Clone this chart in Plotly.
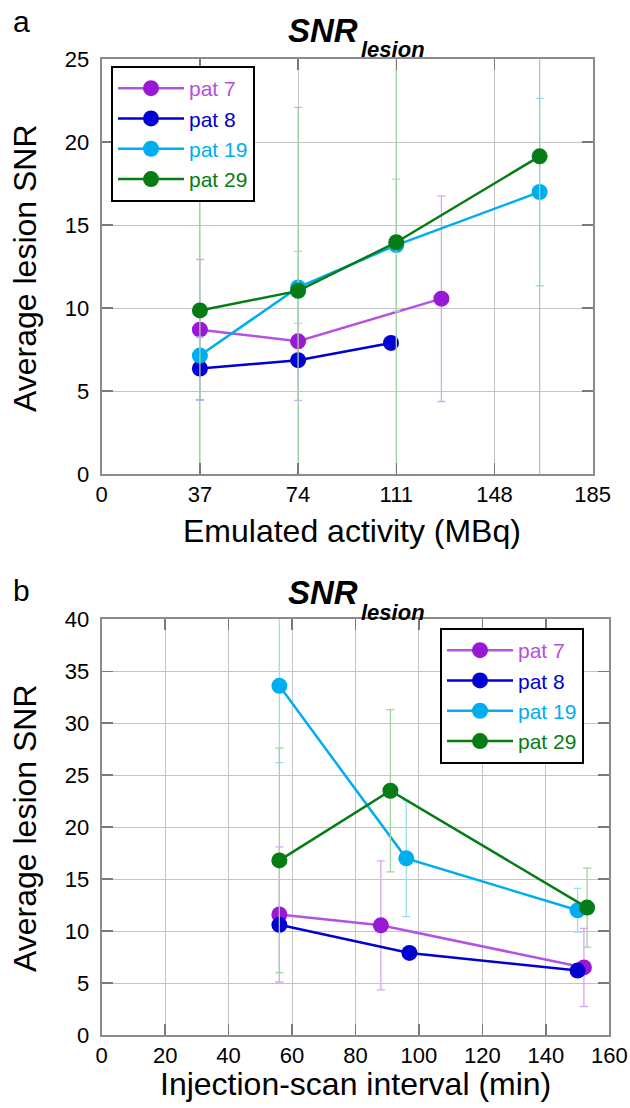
import plotly.graph_objects as go

# ---------------- data ----------------
patients = ["pat 7", "pat 8", "pat 19", "pat 29"]

# Panel a: emulated activity (MBq)
a_x_p7 = [37, 74, 128]
a_y_p7 = [8.70, 8.00, 10.57]
a_e_p7 = [4.23, 3.56, 6.20]

a_x_p8 = [37, 74, 109]
a_y_p8 = [6.36, 6.86, 7.90]
a_e_p8 = [1.90, 0, 0]

a_x_p19 = [37, 74, 111, 165]
a_y_p19 = [7.14, 11.25, 13.80, 17.00]
a_e_p19 = [0, 2.17, 3.98, 5.65]

a_x_p29 = [37, 74, 111, 165]
a_y_p29 = [9.86, 11.04, 13.97, 19.15]
a_e_p29 = [16.0, 11.06, 15.0, 21.0]

# Panel b: injection-scan interval (min)
b_x_p7 = [56, 88, 152]
b_y_p7 = [11.6, 10.55, 6.5]
b_e_p7 = [6.5, 6.2, 3.76]

b_x_p8 = [56, 97, 150]
b_y_p8 = [10.6, 7.9, 6.2]
b_e_p8 = [0, 0, 0]

b_x_p19 = [56, 96, 150]
b_y_p19 = [33.6, 17.0, 12.0]
b_e_p19 = [7.4, 5.6, 2.1]

b_x_p29 = [56, 91, 153]
b_y_p29 = [16.8, 23.5, 12.26]
b_e_p29 = [10.8, 7.8, 3.8]

a_xticks = [0, 37, 74, 111, 148, 185]
a_yticks = [0, 5, 10, 15, 20, 25]
b_xticks = [0, 20, 40, 60, 80, 100, 120, 140, 160]
b_yticks = [0, 5, 10, 15, 20, 25, 30, 35, 40]

# ---------------- styles ----------------
marker_colors = ["#9818d6", "#0000d2", "#00aeef", "#067d14"]
line_colors = ["#b452e2", "#0000d2", "#00aeef", "#067d14"]
text_colors = ["#b450e0", "#0000d2", "#00aeef", "#067d14"]
err_colors = ["#d8a6f2", "#a6a6f2", "#9cdcf6", "#9ed49e"]

FONT = "Liberation Sans, Arial, sans-serif"
W, H = 630, 1108

fig = go.Figure()

panel_a = [(a_x_p7, a_y_p7, a_e_p7), (a_x_p8, a_y_p8, a_e_p8),
           (a_x_p19, a_y_p19, a_e_p19), (a_x_p29, a_y_p29, a_e_p29)]
panel_b = [(b_x_p7, b_y_p7, b_e_p7), (b_x_p8, b_y_p8, b_e_p8),
           (b_x_p19, b_y_p19, b_e_p19), (b_x_p29, b_y_p29, b_e_p29)]

for i, (xs, ys, es) in enumerate(panel_a):
    fig.add_trace(go.Scatter(
        x=xs, y=ys, mode="lines+markers",
        name=f'<span style="color:{text_colors[i]}">{patients[i]}</span>',
        line=dict(color=line_colors[i], width=2.5),
        marker=dict(color=marker_colors[i], size=16, line=dict(width=0)),
        error_y=dict(type="data", array=es, symmetric=True,
                     color=err_colors[i], thickness=1.3, width=4),
        xaxis="x", yaxis="y", legend="legend",
    ))

for i, (xs, ys, es) in enumerate(panel_b):
    fig.add_trace(go.Scatter(
        x=xs, y=ys, mode="lines+markers",
        name=f'<span style="color:{text_colors[i]}">{patients[i]}</span>',
        line=dict(color=line_colors[i], width=2.5),
        marker=dict(color=marker_colors[i], size=16, line=dict(width=0)),
        error_y=dict(type="data", array=es, symmetric=True,
                     color=err_colors[i], thickness=1.3, width=4),
        xaxis="x2", yaxis="y2", legend="legend2",
    ))

def px_x(p):
    return p / W

def px_y(p):
    return 1 - p / H

axis_common = dict(
    showgrid=True, gridcolor="#c4c4c4", gridwidth=1,
    showline=True, linecolor="#8c8c8c", linewidth=2, mirror="ticks",
    ticks="inside", ticklen=11, tickcolor="#7a7a7a", tickwidth=1.5,
    tickfont=dict(family=FONT, size=22, color="black"),
    zeroline=False, fixedrange=True, automargin=False,
)

fig.update_layout(
    width=W, height=H,
    margin=dict(l=0, r=0, t=0, b=0, pad=0, autoexpand=False),
    paper_bgcolor="white", plot_bgcolor="white",
    font=dict(family=FONT, color="black"),
    xaxis=dict(axis_common, domain=[px_x(101.7), px_x(592.7)], range=[0, 185],
               tickvals=a_xticks, anchor="y"),
    yaxis=dict(axis_common, domain=[px_y(474), px_y(59.3)], range=[0, 25],
               tickvals=a_yticks, anchor="x", ticklabelstandoff=6),
    xaxis2=dict(axis_common, domain=[px_x(101.7), px_x(609.3)], range=[0, 160],
                tickvals=b_xticks, anchor="y2"),
    yaxis2=dict(axis_common, domain=[px_y(1035), px_y(619.3)], range=[0, 40],
                tickvals=b_yticks, anchor="x2", ticklabelstandoff=6),
    legend=dict(x=px_x(111), y=px_y(66), xanchor="left", yanchor="top",
                bgcolor="white", bordercolor="black", borderwidth=2,
                font=dict(family=FONT, size=21), itemwidth=66,
                tracegroupgap=0),
    legend2=dict(x=px_x(440), y=px_y(628), xanchor="left", yanchor="top",
                 bgcolor="white", bordercolor="black", borderwidth=2,
                 font=dict(family=FONT, size=21), itemwidth=66,
                 tracegroupgap=0),
    showlegend=True,
    hovermode=False,
)

annotations = []
# panel labels
for lab, yy in [("a", 22), ("b", 590)]:
    annotations.append(dict(text=lab, x=px_x(11), y=px_y(yy), xref="paper", yref="paper",
                            xanchor="left", yanchor="middle", showarrow=False,
                            font=dict(family=FONT, size=30, color="black")))
# titles SNR_lesion
for ysnr, ysub in [(30, 50), (592, 612)]:
    annotations.append(dict(text="<b><i>SNR</i></b>", x=px_x(323), y=px_y(ysnr),
                            xref="paper", yref="paper", xanchor="center", yanchor="middle",
                            showarrow=False, font=dict(family=FONT, size=33, color="black")))
    annotations.append(dict(text="<b><i>lesion</i></b>", x=px_x(393), y=px_y(ysub),
                            xref="paper", yref="paper", xanchor="center", yanchor="middle",
                            showarrow=False, font=dict(family=FONT, size=22, color="black")))
# axis titles
annotations.append(dict(text="Emulated activity (MBq)", x=px_x(352), y=px_y(531),
                        xref="paper", yref="paper", xanchor="center", yanchor="middle",
                        showarrow=False, font=dict(family=FONT, size=32, color="black")))
annotations.append(dict(text="Injection-scan interval (min)", x=px_x(355), y=px_y(1084),
                        xref="paper", yref="paper", xanchor="center", yanchor="middle",
                        showarrow=False, font=dict(family=FONT, size=32, color="black")))
for yc in [268, 828]:
    annotations.append(dict(text="Average lesion SNR", x=px_x(25), y=px_y(yc),
                            xref="paper", yref="paper", xanchor="center", yanchor="middle",
                            textangle=-90, showarrow=False,
                            font=dict(family=FONT, size=32, color="black")))
fig.update_layout(annotations=annotations)

# remove the default page margin so the 630x1108 figure fills the window exactly
page_fix = ("document.body.style.margin='0px';"
            "document.body.style.overflow='hidden';"
            "document.documentElement.style.overflow='hidden';")
fig.write_html("out.html", post_script=page_fix,
               config={"displayModeBar": False, "staticPlot": True})
